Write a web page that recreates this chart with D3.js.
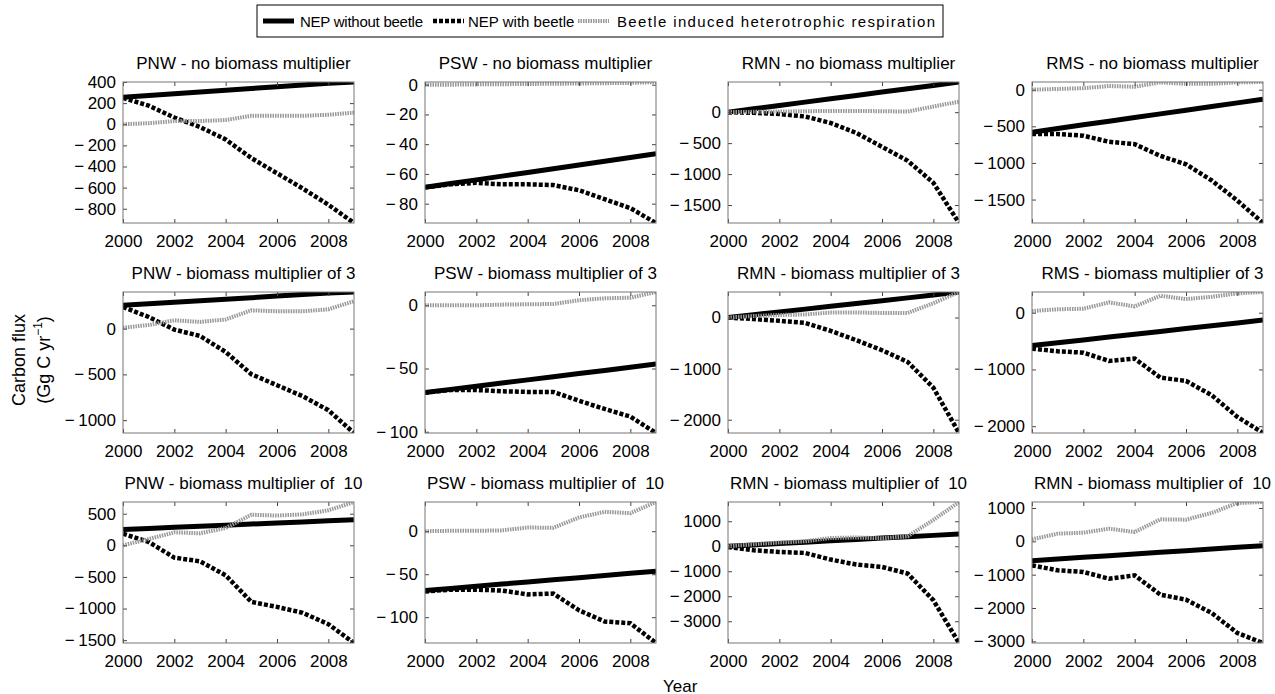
<!DOCTYPE html>
<html>
<head>
<meta charset="utf-8">
<script src="https://cdn.jsdelivr.net/npm/d3@7"></script>
<style>
html,body{margin:0;padding:0;background:#fff;overflow:hidden;}
svg{display:block;}
svg text{font-family:Arial,"Liberation Sans",sans-serif;fill:#000;}
</style>
</head>
<body>
<svg width="1275" height="694"></svg>
<script>
const years = [2000, 2001, 2002, 2003, 2004, 2005, 2006, 2007, 2008, 2009];
const xTicks = [2000, 2002, 2004, 2006, 2008];
const seriesNames = ['NEP without beetle', 'NEP with beetle', 'Beetle induced heterotrophic respiration'];

const titles = [
  'PNW - no biomass multiplier', 'PSW - no biomass multiplier', 'RMN - no biomass multiplier', 'RMS - no biomass multiplier',
  'PNW - biomass multiplier of 3', 'PSW - biomass multiplier of 3', 'RMN - biomass multiplier of 3', 'RMS - biomass multiplier of 3',
  'PNW - biomass multiplier of  10', 'PSW - biomass multiplier of  10', 'RMN - biomass multiplier of  10', 'RMN - biomass multiplier of  10'
];

// row 1 - no multiplier
const pnwNoWithout = [255, 272, 288, 305, 322, 338, 355, 372, 388, 400];
const pnwNoWith = [250, 176, 64, -26, -144, -320, -464, -608, -762, -935];
const pnwNoRh = [0, 10, 30, 30, 40, 80, 80, 80, 90, 110];

const pswNoWithout = [-69, -66.5, -64, -61.5, -59, -56.5, -54, -51.5, -49, -46.5];
const pswNoWith = [-69, -67, -66, -67, -67, -67.5, -71, -77, -83, -93];
const pswNoRh = [0, 0, 0.2, 0.3, 0.5, 0.6, 0.8, 1, 1.2, 1.8];

const rmnNoWithout = [0, 54, 108, 162, 216, 270, 324, 378, 432, 487];
const rmnNoWith = [0, -10, -30, -70, -175, -335, -560, -785, -1140, -1790];
const rmnNoRh = [0, 5, 10, 15, 20, 20, 15, 10, 90, 170];

const rmsNoWithout = [-580, -530, -480, -430, -380, -330, -280, -230, -180, -130];
const rmsNoWith = [-605, -605, -628, -711, -743, -904, -1018, -1239, -1514, -1820];
const rmsNoRh = [0, 10, 20, 50, 40, 100, 80, 80, 100, 105];

// row 2 - multiplier of 3
const pnw3Without = [255, 272, 288, 305, 322, 338, 355, 372, 388, 400];
const pnw3With = [236, 127, -11, -80, -255, -498, -618, -738, -891, -1140];
const pnw3Rh = [10, 40, 91, 73, 100, 200, 190, 190, 210, 300];

const psw3Without = [-69, -66.5, -64, -61.5, -59, -56.5, -54, -51.5, -49, -46.5];
const psw3With = [-69, -67, -67, -68, -68.5, -68.5, -75.5, -82, -88, -101];
const psw3Rh = [0, 0, 0, 0.5, 0.8, 1, 4, 5.5, 6, 10.5];

const rmn3Without = [0, 55, 110, 165, 220, 275, 330, 385, 440, 500];
const rmn3With = [0, -30, -65, -105, -261, -444, -640, -869, -1373, -2260];
const rmn3Rh = [0, 30, 50, 60, 98, 100, 90, 90, 280, 500];

const rms3Without = [-580, -530, -480, -430, -380, -330, -280, -230, -180, -130];
const rms3With = [-633, -680, -704, -850, -809, -1144, -1202, -1454, -1836, -2120];
const rms3Rh = [30, 60, 70, 182, 111, 299, 240, 280, 340, 365];

// row 3 - multiplier of 10
const pnw10Without = [250, 267, 284, 302, 319, 336, 353, 370, 388, 405];
const pnw10With = [184, 53, -195, -253, -474, -895, -974, -1068, -1247, -1545];
const pnw10Rh = [0, 100, 205, 190, 274, 484, 470, 490, 553, 685];

const psw10Without = [-69, -66.5, -64, -61.5, -59, -56.5, -54, -51.5, -49, -46.5];
const psw10With = [-70, -68, -68, -69, -73.5, -72.5, -92, -105, -107, -130];
const psw10Rh = [0, 0.5, 0.5, 1, 4.3, 4, 16, 22.6, 21, 34];

const rmn10Without = [0, 54, 108, 163, 217, 272, 326, 380, 435, 490];
const rmn10With = [-30, -160, -227, -267, -533, -733, -827, -1093, -2160, -3870];
const rmn10Rh = [0, 80, 150, 200, 330, 350, 320, 400, 1050, 1770];

const rms10Without = [-580, -530, -480, -430, -380, -330, -280, -230, -180, -130];
const rms10With = [-720, -870, -920, -1120, -1020, -1600, -1750, -2150, -2750, -3050];
const rms10Rh = [60, 230, 260, 380, 280, 660, 650, 850, 1150, 1180];

// y tick values for each panel
const yTicks = [
  [-800, -600, -400, -200, 0, 200, 400], [-80, -60, -40, -20, 0], [-1500, -1000, -500, 0], [-1500, -1000, -500, 0],
  [-1000, -500, 0], [-100, -50, 0], [-2000, -1000, 0], [-2000, -1000, 0],
  [-1500, -1000, -500, 0, 500], [-100, -50, 0], [-3000, -2000, -1000, 0, 1000], [-3000, -2000, -1000, 0, 1000]
];

const panelSeries = [
  [pnwNoWithout, pnwNoWith, pnwNoRh], [pswNoWithout, pswNoWith, pswNoRh], [rmnNoWithout, rmnNoWith, rmnNoRh], [rmsNoWithout, rmsNoWith, rmsNoRh],
  [pnw3Without, pnw3With, pnw3Rh], [psw3Without, psw3With, psw3Rh], [rmn3Without, rmn3With, rmn3Rh], [rms3Without, rms3With, rms3Rh],
  [pnw10Without, pnw10With, pnw10Rh], [psw10Without, psw10With, psw10Rh], [rmn10Without, rmn10With, rmn10Rh], [rms10Without, rms10With, rms10Rh]
];

const svg = d3.select('svg');
const font = 'Arial, "Liberation Sans", sans-serif';

const colLeft = [123, 425, 728, 1032];
const rowTop = [82, 292, 502];
const innerWidth = 231;
const innerHeight = 141;
const tickFont = 17;
const titleFont = 17;

const styles = [
  {stroke: '#000', width: 5, dash: null},
  {stroke: '#000', width: 4.5, dash: '4,2'},
  {stroke: '#999', width: 4, dash: '1.5,1'}
];

// matlab style minus with a little gap
const yFormat = d => d < 0 ? '\u2212\u2009' + Math.abs(d) : String(d);

const xScale = d3.scaleLinear()
  .domain(d3.extent(years))
  .range([0, innerWidth]);

panelSeries.forEach((series, i) => {
  const col = i % 4;
  const row = Math.floor(i / 4);
  const g = svg.append('g')
    .attr('transform', `translate(${colLeft[col]},${rowTop[row]})`);

  const yScale = d3.scaleLinear()
    .domain(d3.extent(series.flat()))
    .range([innerHeight, 0]);

  g.append('clipPath').attr('id', 'clip' + i)
    .append('rect').attr('width', innerWidth).attr('height', innerHeight);

  const line = d3.line()
    .x((d, j) => xScale(years[j]))
    .y(d => yScale(d));

  series.forEach((values, k) => {
    g.append('path')
      .attr('clip-path', `url(#clip${i})`)
      .attr('d', line(values))
      .attr('fill', 'none')
      .attr('stroke', styles[k].stroke)
      .attr('stroke-width', styles[k].width)
      .attr('stroke-dasharray', styles[k].dash);
  });

  // axes with inward ticks on all four sides
  const axisGroups = [];
  axisGroups.push(g.append('g')
    .attr('transform', `translate(0,${innerHeight})`)
    .call(d3.axisBottom(xScale).tickValues(xTicks).tickFormat(d3.format('d')).tickSize(-4).tickPadding(12)));
  axisGroups.push(g.append('g')
    .call(d3.axisTop(xScale).tickValues(xTicks).tickFormat('').tickSize(-4)));
  axisGroups.push(g.append('g')
    .call(d3.axisLeft(yScale).tickValues(yTicks[i]).tickFormat(yFormat).tickSize(-4).tickPadding(7)));
  axisGroups.push(g.append('g')
    .attr('transform', `translate(${innerWidth},0)`)
    .call(d3.axisRight(yScale).tickValues(yTicks[i]).tickFormat('').tickSize(-4)));

  axisGroups.forEach(a => a.attr('font-size', tickFont).attr('font-family', font));

  g.selectAll('.domain').remove();
  g.selectAll('.tick line').attr('stroke', '#444');

  g.append('rect')
    .attr('width', innerWidth)
    .attr('height', innerHeight)
    .attr('fill', 'none')
    .attr('stroke', '#777')
    .attr('stroke-width', 1);

  g.append('text')
    .attr('x', innerWidth / 2 + 5)
    .attr('y', -13)
    .attr('text-anchor', 'middle')
    .attr('font-size', titleFont)
    .style('white-space', 'pre')
    .text(titles[i]);
});

// y axis label
const yLabel = svg.append('g')
  .attr('transform', 'translate(0,360) rotate(-90)')
  .attr('font-size', 18);
yLabel.append('text')
  .attr('x', 0).attr('y', 25)
  .attr('text-anchor', 'middle')
  .text('Carbon flux');
const unit = yLabel.append('text')
  .attr('x', 0).attr('y', 50)
  .attr('text-anchor', 'middle');
unit.append('tspan').text('(Gg C yr');
unit.append('tspan').attr('dy', -8).attr('font-size', 12).text('\u22121');
unit.append('tspan').attr('dy', 8).text(')');

svg.append('text')
  .attr('x', 663).attr('y', 692)
  .attr('font-size', 17)
  .text('Year');

// legend
const legend = svg.append('g').attr('font-size', 15);
legend.append('rect')
  .attr('x', 257).attr('y', 5)
  .attr('width', 686).attr('height', 32)
  .attr('fill', '#fff')
  .attr('stroke', '#000')
  .attr('stroke-width', 1);

const legendX = [263, 433, 578];
const legendTextX = [300, 468, 617];
seriesNames.forEach((name, k) => {
  legend.append('line')
    .attr('x1', legendX[k]).attr('x2', legendX[k] + 31)
    .attr('y1', 21).attr('y2', 21)
    .attr('stroke', styles[k].stroke)
    .attr('stroke-width', styles[k].width)
    .attr('stroke-dasharray', styles[k].dash);
  const t = legend.append('text')
    .attr('x', legendTextX[k])
    .attr('y', 26.5)
    .text(name);
  // entries are spaced a little differently in the original
  if (k === 0) t.attr('textLength', 123).attr('lengthAdjust', 'spacing');
  if (k === 2) t.attr('textLength', 318).attr('lengthAdjust', 'spacing');
});
</script>
</body>
</html>
